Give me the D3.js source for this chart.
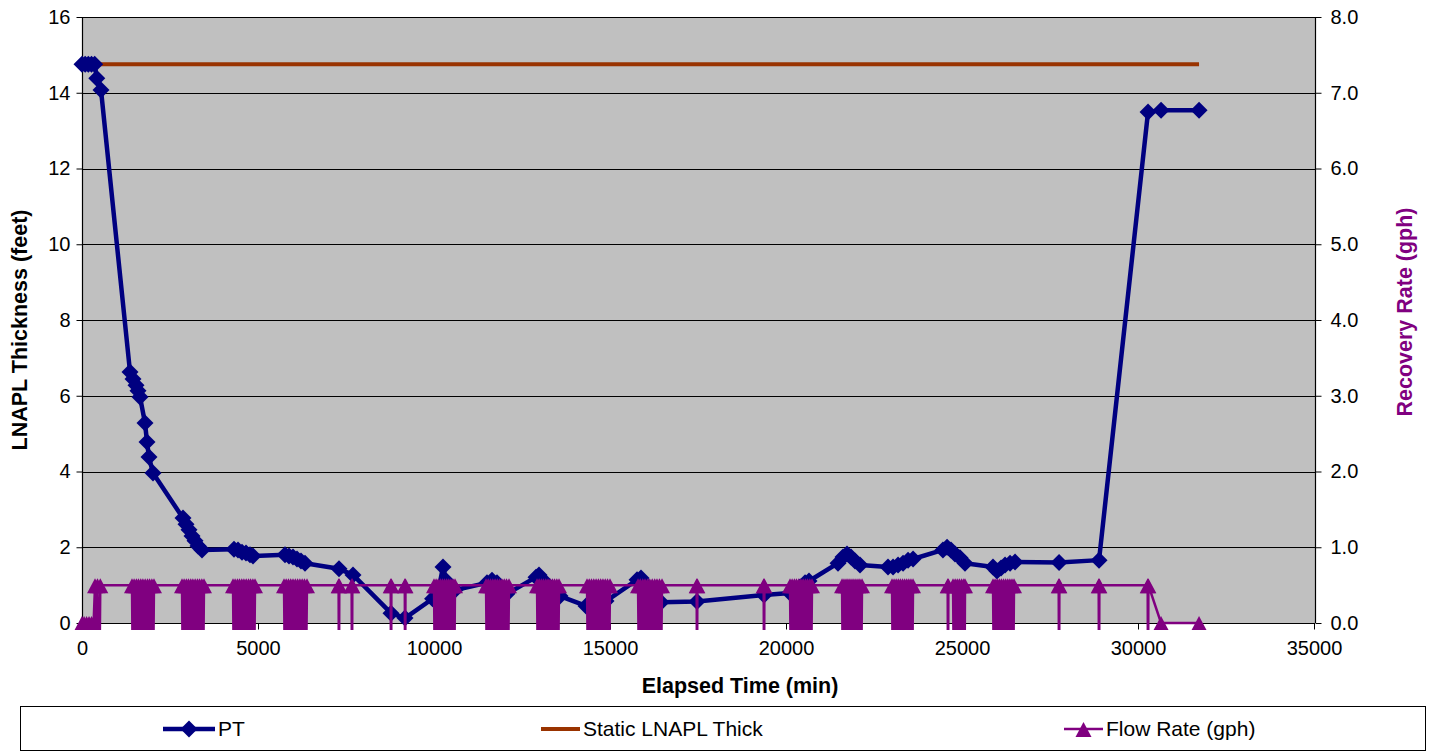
<!DOCTYPE html>
<html lang="en">
<head>
<meta charset="UTF-8">
<title>LNAPL Thickness</title>
<script src="https://d3js.org/d3.v7.min.js"></script>
<style>
  body { margin: 0; background: #fff; }
  text { font-family: "Liberation Sans", Arial, sans-serif; }
</style>
</head>
<body>
<div id="chart"></div>
<script>
// --- data ---
const xTicks = [0, 5000, 10000, 15000, 20000, 25000, 30000, 35000];
const yTicks = [0, 2, 4, 6, 8, 10, 12, 14, 16];
const y2Ticks = [0, 1, 2, 3, 4, 5, 6, 7, 8];

// PT thickness [elapsed min, feet]
const ptReadings = [
  [0, 14.75], [90, 14.75], [180, 14.75], [270, 14.75], [360, 14.75],
  [420, 14.38], [540, 14.07],
  [1364, 6.63], [1449, 6.44], [1534, 6.28], [1591, 6.13], [1648, 5.97],
  [1790, 5.28], [1847, 4.78], [1903, 4.38], [2017, 3.96],
  [2869, 2.77], [2955, 2.61], [3040, 2.46], [3125, 2.30], [3210, 2.17], [3296, 2.03], [3409, 1.93],
  [4318, 1.95], [4432, 1.93], [4546, 1.87], [4659, 1.85], [4773, 1.80], [4858, 1.77],
  [5767, 1.80], [5881, 1.77], [5994, 1.74], [6108, 1.69], [6222, 1.64], [6335, 1.58],
  [7301, 1.43], [7699, 1.27],
  [8779, 0.26], [9177, 0.13],
  [9960, 0.64], [10130, 0.88], [10256, 1.48], [10340, 1.12], [10450, 0.95], [10600, 0.87],
  [11506, 1.06], [11648, 1.13], [11790, 1.06], [11932, 0.90], [12074, 0.77],
  [12898, 1.21], [12983, 1.27], [13126, 1.11], [13268, 0.95], [13438, 0.82], [13580, 0.71],
  [14318, 0.45], [14432, 0.37], [14574, 0.40], [14716, 0.48], [14887, 0.58],
  [15768, 1.14], [15881, 1.19], [16023, 1.00], [16165, 0.82], [16307, 0.63], [16450, 0.55],
  [17472, 0.57], [19376, 0.74],
  [20114, 0.79], [20256, 0.84], [20398, 0.95], [20541, 1.06], [20654, 1.11],
  [21478, 1.58], [21620, 1.74], [21733, 1.82], [21847, 1.74], [21961, 1.64], [22103, 1.53],
  [22898, 1.48], [23041, 1.48], [23183, 1.53], [23325, 1.58], [23467, 1.66], [23609, 1.69],
  [24459, 1.93], [24575, 2.00], [24688, 1.93], [24802, 1.82], [24944, 1.72], [25086, 1.58],
  [25881, 1.48], [25995, 1.37], [26109, 1.45], [26223, 1.53], [26365, 1.58], [26507, 1.61],
  [27757, 1.60], [28893, 1.66],
  [30285, 13.49], [30655, 13.54], [31734, 13.54]
];

// static LNAPL thickness [elapsed min, feet]
const staticReadings = [[0, 14.75], [31734, 14.75]];

// flow rate [elapsed min, gph]; -1 = off-scale reading (drops below the axis)
const flowReadings = [
  [0, 0], [60, 0], [130, 0], [200, 0], [270, 0], [330, 0],
  [370, 0.5], [410, -1], [440, 0.5], [490, -1], [520, 0.5],
  [1420, 0.5], [1450, -1], [1480, 0.5], [1510, -1], [1545, 0.5], [1575, -1], [1605, 0.5], [1640, -1], [1670, 0.5], [1700, -1],
  [1730, 0.5], [1765, -1], [1795, 0.5], [1825, -1], [1860, 0.5], [1890, -1], [1920, 0.5], [1955, -1], [1985, 0.5], [2015, -1], [2045, 0.5],
  [2841, 0.5], [2871, -1], [2901, 0.5], [2931, -1], [2965, 0.5], [2995, -1], [3025, 0.5], [3060, -1], [3090, 0.5], [3120, -1],
  [3150, 0.5], [3185, -1], [3215, 0.5], [3245, -1], [3280, 0.5], [3310, -1], [3340, 0.5], [3370, -1], [3405, 0.5], [3435, -1], [3466, 0.5],
  [4290, 0.5], [4320, -1], [4350, 0.5], [4380, -1], [4415, 0.5], [4445, -1], [4475, 0.5], [4510, -1], [4540, 0.5], [4570, -1],
  [4600, 0.5], [4635, -1], [4665, 0.5], [4695, -1], [4730, 0.5], [4760, -1], [4790, 0.5], [4820, -1], [4855, 0.5], [4885, -1], [4915, 0.5],
  [5739, 0.5], [5770, -1], [5800, 0.5], [5835, -1], [5865, 0.5], [5900, -1], [5930, 0.5], [5965, -1], [5995, 0.5], [6030, -1],
  [6060, 0.5], [6095, -1], [6125, 0.5], [6160, -1], [6190, 0.5], [6225, -1], [6255, 0.5], [6290, -1], [6320, 0.5], [6355, -1], [6392, 0.5],
  [7290, 0.5], [7300, -1], [7310, 0.5],
  [7660, 0.5], [7670, -1], [7680, 0.5],
  [8770, 0.5], [8780, -1], [8790, 0.5],
  [9170, 0.5], [9180, -1], [9190, 0.5],
  [10000, 0.5], [10030, -1], [10060, 0.5], [10090, -1], [10120, 0.5], [10150, -1], [10180, 0.5], [10210, -1], [10240, 0.5], [10270, -1],
  [10300, 0.5], [10330, -1], [10360, 0.5], [10390, -1], [10420, 0.5], [10450, -1], [10480, 0.5], [10510, -1], [10540, 0.5], [10570, -1], [10597, 0.5],
  [11478, 0.5], [11510, -1], [11540, 0.5], [11575, -1], [11605, 0.5], [11640, -1], [11670, 0.5], [11705, -1], [11735, 0.5], [11770, -1],
  [11800, 0.5], [11835, -1], [11865, 0.5], [11900, -1], [11930, 0.5], [11965, -1], [11995, 0.5], [12030, -1], [12060, 0.5], [12095, -1], [12131, 0.5],
  [12927, 0.5], [12957, -1], [12987, 0.5], [13017, -1], [13050, 0.5], [13080, -1], [13110, 0.5], [13145, -1], [13175, 0.5], [13205, -1],
  [13240, 0.5], [13270, -1], [13300, 0.5], [13330, -1], [13365, 0.5], [13395, -1], [13425, 0.5], [13460, -1], [13490, 0.5], [13520, -1], [13552, 0.5],
  [14347, 0.5], [14380, -1], [14410, 0.5], [14445, -1], [14475, 0.5], [14510, -1], [14540, 0.5], [14575, -1], [14605, 0.5], [14640, -1],
  [14670, 0.5], [14705, -1], [14735, 0.5], [14770, -1], [14800, 0.5], [14835, -1], [14865, 0.5], [14900, -1], [14930, 0.5], [14965, -1], [15000, 0.5],
  [15796, 0.5], [15830, -1], [15860, 0.5], [15895, -1], [15930, 0.5], [15965, -1], [15995, 0.5], [16030, -1], [16065, 0.5], [16100, -1],
  [16130, 0.5], [16165, -1], [16200, 0.5], [16235, -1], [16270, 0.5], [16300, -1], [16335, 0.5], [16370, -1], [16405, 0.5], [16440, -1], [16478, 0.5],
  [17462, 0.5], [17472, -1], [17482, 0.5],
  [19366, 0.5], [19376, -1], [19386, 0.5],
  [20114, 0.5], [20144, -1], [20174, 0.5], [20204, -1], [20237, 0.5], [20267, -1], [20297, 0.5], [20332, -1], [20362, 0.5], [20392, -1],
  [20422, 0.5], [20457, -1], [20487, 0.5], [20517, -1], [20552, 0.5], [20582, -1], [20612, 0.5], [20642, -1], [20677, 0.5], [20707, -1], [20739, 0.5],
  [21592, 0.5], [21620, -1], [21647, 0.5], [21675, -1], [21705, 0.5], [21732, -1], [21760, 0.5], [21790, -1], [21817, 0.5], [21845, -1],
  [21875, 0.5], [21902, -1], [21930, 0.5], [21960, -1], [21987, 0.5], [22015, -1], [22045, 0.5], [22072, -1], [22100, 0.5], [22130, -1], [22160, 0.5],
  [23012, 0.5], [23040, -1], [23070, 0.5], [23100, -1], [23130, 0.5], [23160, -1], [23190, 0.5], [23220, -1], [23250, 0.5], [23280, -1],
  [23310, 0.5], [23340, -1], [23370, 0.5], [23400, -1], [23430, 0.5], [23460, -1], [23490, 0.5], [23520, -1], [23550, 0.5], [23580, -1], [23609, 0.5],
  [24593, 0.5], [24603, -1], [24613, 0.5],
  [24745, 0.5], [24775, -1], [24805, 0.5], [24835, -1], [24865, 0.5], [24895, -1], [24925, 0.5], [24955, -1], [24990, 0.5], [25020, -1],
  [25050, 0.5], [25070, -1], [25086, 0.5],
  [25881, 0.5], [25910, -1], [25940, 0.5], [25970, -1], [26000, 0.5], [26030, -1], [26060, 0.5], [26090, -1], [26120, 0.5], [26150, -1],
  [26180, 0.5], [26210, -1], [26240, 0.5], [26270, -1], [26300, 0.5], [26330, -1], [26360, 0.5], [26390, -1], [26420, 0.5], [26450, -1], [26478, 0.5],
  [27747, 0.5], [27757, -1], [27767, 0.5],
  [28883, 0.5], [28893, -1], [28903, 0.5],
  [30275, 0.5], [30285, -1], [30295, 0.5],
  [30655, 0], [31734, 0]
];

// --- layout ---
const W = 1434, H = 756;
const plot = { left: 82, right: 1314, top: 17, bottom: 623 };

const svg = d3.select("#chart").append("svg")
  .attr("width", W)
  .attr("height", H);

const x = d3.scaleLinear().domain([0, 35000]).range([plot.left, plot.right]);
const y = d3.scaleLinear().domain([0, 16]).range([plot.bottom, plot.top]);
const y2 = d3.scaleLinear().domain([0, 8]).range([plot.bottom, plot.top]);

// plot area
svg.append("rect")
  .attr("x", plot.left).attr("y", plot.top)
  .attr("width", plot.right - plot.left + 1)
  .attr("height", plot.bottom - plot.top)
  .attr("fill", "#c0c0c0");

// gridlines
svg.append("g")
  .selectAll("line")
  .data(yTicks.slice(1))
  .join("line")
  .attr("x1", plot.left).attr("x2", plot.right + 1)
  .attr("y1", d => Math.round(y(d)) + 0.5)
  .attr("y2", d => Math.round(y(d)) + 0.5)
  .attr("stroke", "#000")
  .attr("stroke-width", 1);

const tickFont = 20;

// left axis
const yAxis = svg.append("g")
  .attr("transform", `translate(${plot.left + 0.5},0)`)
  .call(d3.axisLeft(y).tickValues(yTicks).tickSize(6).tickPadding(6).tickFormat(d3.format("d")));
// right axis
const y2Axis = svg.append("g")
  .attr("transform", `translate(${plot.right + 1.5},0)`)
  .call(d3.axisRight(y2).tickValues(y2Ticks).tickSize(6).tickPadding(9).tickFormat(d3.format(".1f")));
// bottom axis
const xAxis = svg.append("g")
  .attr("transform", `translate(0,${plot.bottom + 0.5})`)
  .call(d3.axisBottom(x).tickValues(xTicks).tickSize(6).tickPadding(11).tickFormat(d3.format("d")));

[yAxis, y2Axis, xAxis].forEach(g => {
  g.select(".domain").attr("stroke", "#000").attr("stroke-width", 1.2);
  g.selectAll(".tick line").attr("stroke", "#000");
  g.selectAll(".tick text")
    .attr("font-size", tickFont)
    .attr("fill", "#000")
    .style("font-family", "'Liberation Sans', Arial, sans-serif");
});
// axis paths without end caps
yAxis.select(".domain").attr("d", `M0,${plot.top}V${plot.bottom}`);
y2Axis.select(".domain").attr("d", `M0,${plot.top}V${plot.bottom}`);
xAxis.select(".domain").attr("d", `M${plot.left},0H${plot.right + 1}`);

// axis titles
svg.append("text")
  .attr("transform", `translate(27,330) rotate(-90)`)
  .attr("text-anchor", "middle")
  .attr("font-size", 21.5)
  .attr("font-weight", "bold")
  .text("LNAPL Thickness (feet)");

svg.append("text")
  .attr("x", 740).attr("y", 693)
  .attr("text-anchor", "middle")
  .attr("font-size", 21.5)
  .attr("font-weight", "bold")
  .text("Elapsed Time (min)");

svg.append("text")
  .attr("transform", `translate(1412,312) rotate(-90)`)
  .attr("text-anchor", "middle")
  .attr("font-size", 21.5)
  .attr("font-weight", "bold")
  .attr("fill", "#800080")
  .text("Recovery Rate (gph)");

// markers
const diamond = "M0,-8.5L8.5,0L0,8.5L-8.5,0Z";
const triangle = "M0,-7L8,8L-8,8Z";

// clip for flow series (off-scale values are cut just below the axis)
svg.append("clipPath").attr("id", "flowClip")
  .append("rect")
  .attr("x", 0).attr("y", 0)
  .attr("width", W).attr("height", plot.bottom + 7);

// static LNAPL line
const staticLine = d3.line().x(d => x(d[0])).y(d => y(d[1]));
svg.append("path")
  .datum(staticReadings)
  .attr("d", staticLine)
  .attr("fill", "none")
  .attr("stroke", "#993300")
  .attr("stroke-width", 4);

// PT series
const ptLine = d3.line().x(d => x(d[0])).y(d => y(d[1]));
svg.append("path")
  .datum(ptReadings)
  .attr("d", ptLine)
  .attr("fill", "none")
  .attr("stroke", "#000080")
  .attr("stroke-width", 4.5)
  .attr("stroke-linejoin", "round");

svg.append("g")
  .selectAll("path")
  .data(ptReadings)
  .join("path")
  .attr("d", diamond)
  .attr("transform", d => `translate(${x(d[0])},${y(d[1])})`)
  .attr("fill", "#000080");

// flow series (secondary axis)
const flowG = svg.append("g").attr("clip-path", "url(#flowClip)");
const flowLine = d3.line().x(d => x(d[0])).y(d => y2(d[1]));
flowG.append("path")
  .datum(flowReadings)
  .attr("d", flowLine)
  .attr("fill", "none")
  .attr("stroke", "#800080")
  .attr("stroke-width", 2.5);

flowG.selectAll("path.mk")
  .data(flowReadings)
  .join("path")
  .attr("class", "mk")
  .attr("d", triangle)
  .attr("transform", d => `translate(${x(d[0])},${y2(d[1])})`)
  .attr("fill", "#800080");

// legend
const legend = svg.append("g");
legend.append("rect")
  .attr("x", 20.5).attr("y", 706.5)
  .attr("width", 1405).attr("height", 44)
  .attr("fill", "#fff")
  .attr("stroke", "#000")
  .attr("stroke-width", 1);

const legendItems = [
  { label: "PT", x0: 163, x1: 215, color: "#000080", width: 4.5, marker: diamond },
  { label: "Static LNAPL Thick", x0: 541, x1: 580, color: "#993300", width: 4, marker: null },
  { label: "Flow Rate (gph)", x0: 1064, x1: 1103, color: "#800080", width: 2.5, marker: triangle }
];
const ly = 729;
legendItems.forEach(it => {
  legend.append("line")
    .attr("x1", it.x0).attr("x2", it.x1)
    .attr("y1", ly).attr("y2", ly)
    .attr("stroke", it.color)
    .attr("stroke-width", it.width);
  if (it.marker) {
    legend.append("path")
      .attr("d", it.marker)
      .attr("transform", `translate(${(it.x0 + it.x1) / 2},${ly})`)
      .attr("fill", it.color);
  }
  legend.append("text")
    .attr("x", it.x1 + 3).attr("y", ly)
    .attr("dy", "0.35em")
    .attr("font-size", 21)
    .text(it.label);
});
</script>
</body>
</html>
